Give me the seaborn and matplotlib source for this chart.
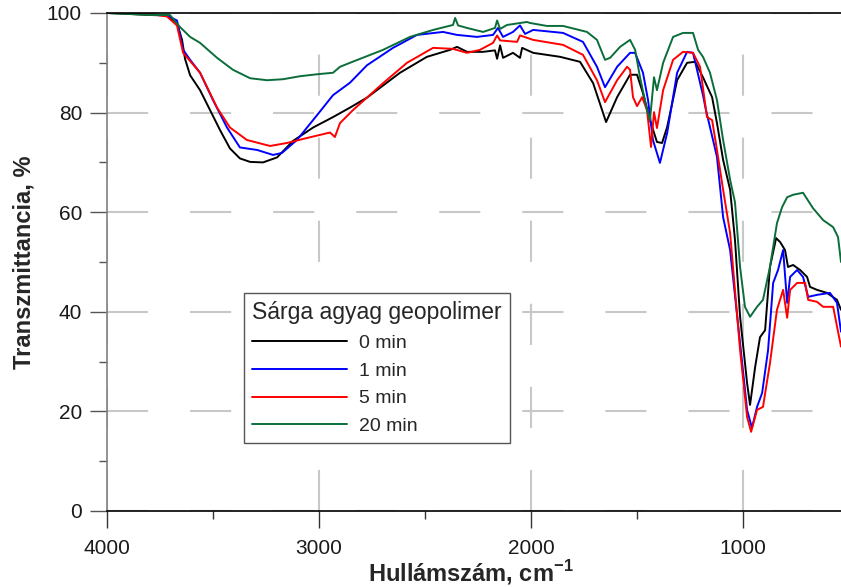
import matplotlib
matplotlib.use("Agg")
import matplotlib.pyplot as plt
import pandas as pd
import seaborn as sns

# ---- data ----
wn_0 = [4000, 3892, 3797, 3717, 3670, 3646, 3632, 3608, 3561, 3514, 3467, 3420, 3373, 3325, 3264,
        3198, 3123, 3028, 2934, 2854, 2774, 2618, 2491, 2382, 2349, 2302, 2226, 2170, 2160, 2146,
        2132, 2085, 2052, 2042, 1990, 1863, 1769, 1707, 1646, 1594, 1533, 1500, 1472, 1439, 1406,
        1382, 1358, 1311, 1264, 1226, 1189, 1146, 1123, 1094, 1061, 1038, 1014, 981, 967, 943,
        920, 896, 873, 844, 825, 802, 788, 764, 731, 698, 684, 651, 604, 557, 538]
t_0 = [100.0, 99.8, 99.6, 99.5, 98.0, 94.6, 90.8, 87.5, 84.5, 80.5, 76.5, 72.8, 70.8, 70.1, 70.0,
       71.0, 74.3, 77.0, 79.1, 81.0, 83.0, 88.0, 91.2, 92.6, 93.2, 92.2, 92.2, 92.5, 90.8, 93.5,
       91.0, 92.0, 91.0, 93.0, 92.0, 91.2, 90.2, 85.9, 78.1, 83.1, 87.6, 87.6, 83.9, 78.5, 74.1,
       73.9, 77.1, 86.5, 90.0, 90.2, 87.1, 83.1, 77.9, 70.5, 64.5, 54.4, 39.0, 25.7, 21.3, 28.9,
       34.9, 36.3, 49.0, 54.8, 54.0, 52.4, 49.0, 49.4, 48.4, 47.0, 45.0, 44.4, 43.8, 42.4, 40.4]

wn_1 = [4000, 3892, 3797, 3717, 3670, 3641, 3608, 3561, 3500, 3434, 3373, 3292, 3217, 3175, 3104,
        3009, 2934, 2854, 2774, 2651, 2538, 2415, 2349, 2255, 2179, 2156, 2132, 2085, 2052, 2028,
        1990, 1849, 1755, 1689, 1651, 1594, 1533, 1509, 1472, 1448, 1425, 1392, 1358, 1311, 1264,
        1236, 1189, 1175, 1156, 1123, 1094, 1061, 1014, 981, 958, 934, 910, 882, 858, 835,
        811, 792, 778, 745, 717, 693, 651, 590, 557, 538]
t_1 = [100.0, 100.0, 99.8, 99.5, 98.5, 92.6, 90.6, 88.0, 82.5, 77.0, 73.0, 72.5, 71.5, 71.9, 74.5,
       79.5, 83.5, 86.0, 89.5, 93.0, 95.6, 96.2, 95.6, 95.2, 95.6, 97.0, 95.2, 96.2, 97.5, 95.8,
       96.6, 96.0, 94.2, 89.2, 85.1, 89.2, 92.0, 92.0, 88.0, 82.5, 74.5, 69.9, 75.9, 88.0, 92.2,
       92.0, 83.5, 80.5, 77.1, 71.1, 59.0, 52.4, 33.7, 20.3, 16.7, 20.9, 23.7, 32.3, 45.8, 48.4,
       52.4, 41.8, 47.0, 48.4, 47.0, 43.0, 43.4, 43.8, 41.8, 36.0]

wn_5 = [4000, 3892, 3797, 3717, 3670, 3641, 3561, 3481, 3420, 3340, 3231, 3151, 3057, 2948, 2925,
        2901, 2840, 2698, 2585, 2462, 2368, 2302, 2241, 2179, 2160, 2146, 2066, 2052, 1990, 1849,
        1755, 1689, 1651, 1594, 1547, 1533, 1519, 1500, 1476, 1453, 1434, 1420, 1406, 1377, 1330,
        1283, 1236, 1203, 1170, 1146, 1123, 1094, 1061, 1014, 981, 962, 934, 906, 873, 840,
        811, 792, 778, 745, 707, 693, 651, 622, 575, 538]
t_5 = [100.0, 100.0, 99.8, 99.3, 97.5, 92.0, 88.0, 81.0, 77.0, 74.5, 73.3, 73.9, 74.9, 76.0, 75.1,
       77.9, 80.5, 85.9, 90.0, 93.0, 92.8, 92.0, 92.6, 94.0, 95.5, 94.5, 94.2, 95.5, 94.6, 93.6,
       91.6, 86.5, 82.1, 86.5, 89.2, 88.6, 83.1, 81.3, 83.1, 80.5, 73.1, 80.1, 76.9, 84.5, 90.6,
       92.2, 92.0, 89.2, 79.1, 78.5, 72.5, 64.5, 55.8, 32.3, 18.9, 15.9, 20.3, 20.9, 29.7, 40.4,
       44.4, 38.8, 44.4, 45.8, 45.8, 42.4, 42.0, 41.0, 41.0, 33.0]

wn_20 = [4000, 3892, 3797, 3703, 3656, 3608, 3561, 3481, 3406, 3325, 3245, 3170, 3090, 3009, 2934,
         2901, 2854, 2698, 2571, 2462, 2368, 2358, 2344, 2302, 2226, 2170, 2160, 2146, 2113, 2019,
         2005, 1925, 1849, 1736, 1689, 1651, 1627, 1580, 1533, 1509, 1486, 1453, 1439, 1420, 1406,
         1377, 1330, 1283, 1236, 1212, 1189, 1156, 1123, 1094, 1061, 1038, 1014, 991, 967, 934,
         906, 873, 840, 816, 792, 764, 717, 670, 622, 575, 552, 538]
t_20 = [100.0, 99.8, 99.6, 99.6, 97.2, 95.2, 94.0, 91.0, 88.6, 86.9, 86.5, 86.7, 87.3, 87.7, 88.0,
        89.2, 90.0, 92.6, 95.2, 96.6, 97.6, 99.0, 97.5, 97.0, 96.2, 97.0, 98.5, 96.8, 97.6, 98.2,
        98.0, 97.4, 97.4, 96.2, 94.6, 90.6, 91.0, 93.2, 94.6, 92.6, 87.1, 80.5, 78.5, 87.1, 84.5,
        90.0, 95.2, 96.0, 96.0, 92.6, 91.2, 88.0, 82.5, 74.5, 66.5, 62.0, 49.0, 41.0, 39.0, 41.0,
        42.4, 49.0, 57.8, 61.0, 63.0, 63.5, 63.9, 60.8, 58.4, 57.0, 55.0, 50.0]

series_labels = ["0 min", "1 min", "5 min", "20 min"]
series_colors = ["#000000", "#0000ff", "#ff0000", "#0b6e3a"]
legend_title = "Sárga agyag geopolimer"
x_label = r"Hullámszám, cm$^{\mathbf{-1}}$"
y_label = "Transzmittancia, %"
x_major = [4000, 3000, 2000, 1000]
x_minor = [3500, 2500, 1500]
y_major = [0, 20, 40, 60, 80, 100]
y_minor = [10, 30, 50, 70, 90]

# ---- style ----
sns.set_style("ticks")
plt.rcParams['font.family'] = ['Liberation Sans', 'DejaVu Sans']
plt.rcParams['lines.scale_dashes'] = False
plt.rcParams['mathtext.fontset'] = 'custom'
plt.rcParams['mathtext.rm'] = 'Liberation Sans'
plt.rcParams['mathtext.bf'] = 'Liberation Sans:bold'

frames = []
for lab, w, t in zip(series_labels, [wn_0, wn_1, wn_5, wn_20], [t_0, t_1, t_5, t_20]):
    frames.append(pd.DataFrame({"wn": w, "T": t, "series": lab}))
df = pd.concat(frames, ignore_index=True)

fig = plt.figure(figsize=(8.41, 5.87), dpi=100)
ax = fig.add_axes([107 / 841, 76 / 587, 734 / 841, 498 / 587])

sns.lineplot(data=df, x="wn", y="T", hue="series", hue_order=series_labels,
             palette=dict(zip(series_labels, series_colors)), estimator=None,
             sort=False, linewidth=1.4, ax=ax, legend=False)

ax.set_xlim(4000, 538)
ax.set_ylim(0, 100)
ax.set_xticks(x_major)
ax.set_xticks(x_minor, minor=True)
ax.set_yticks(y_major)
ax.set_yticks(y_minor, minor=True)

ax.set_axisbelow(True)
ax.grid(True, which="major", color="#c8c8c8", linewidth=1.5, linestyle=(0, (29.6, 30.2)))

ax.spines["right"].set_visible(False)
ax.spines["left"].set_color("#808080")
ax.spines["left"].set_linewidth(1.2)
ax.spines["bottom"].set_color("#000000")
ax.spines["bottom"].set_linewidth(1.2)
ax.spines["top"].set_color("#000000")
ax.spines["top"].set_linewidth(1.2)

ax.tick_params(axis="y", which="major", length=12, width=1, color="#555555",
               labelsize=15, labelcolor="#1a1a1a", pad=6, direction="out")
ax.tick_params(axis="y", which="minor", length=6, width=1, color="#555555", direction="out")
ax.tick_params(axis="x", which="major", length=12, width=1, color="#333333",
               labelsize=15, labelcolor="#1a1a1a", pad=8, direction="out")
ax.tick_params(axis="x", which="minor", length=6, width=1, color="#333333", direction="out")
ax.tick_params(top=False, right=False, which="both")

ax.set_xlabel(x_label, fontsize=17, fontweight="bold")
ax.set_ylabel(y_label, fontsize=17, fontweight="bold")
ax.xaxis.label.set_va("baseline")
ax.xaxis.set_label_coords(0.496, -0.1406)
ax.yaxis.set_label_coords(-0.097, 0.5)

handles = ax.get_lines()[:4]
leg = ax.legend(handles, series_labels, title=legend_title, loc="upper left",
                bbox_to_anchor=(0.1866, 0.4378), borderaxespad=0, fontsize=14,
                title_fontsize=16.5, frameon=True, fancybox=False, edgecolor="#555555",
                handlelength=4.9, handletextpad=0.6, labelspacing=0.52, borderpad=0.42,
                framealpha=1)
leg._legend_box.align = "left"
leg.get_frame().set_linewidth(1.0)

fig.savefig("out.png", dpi=100)
